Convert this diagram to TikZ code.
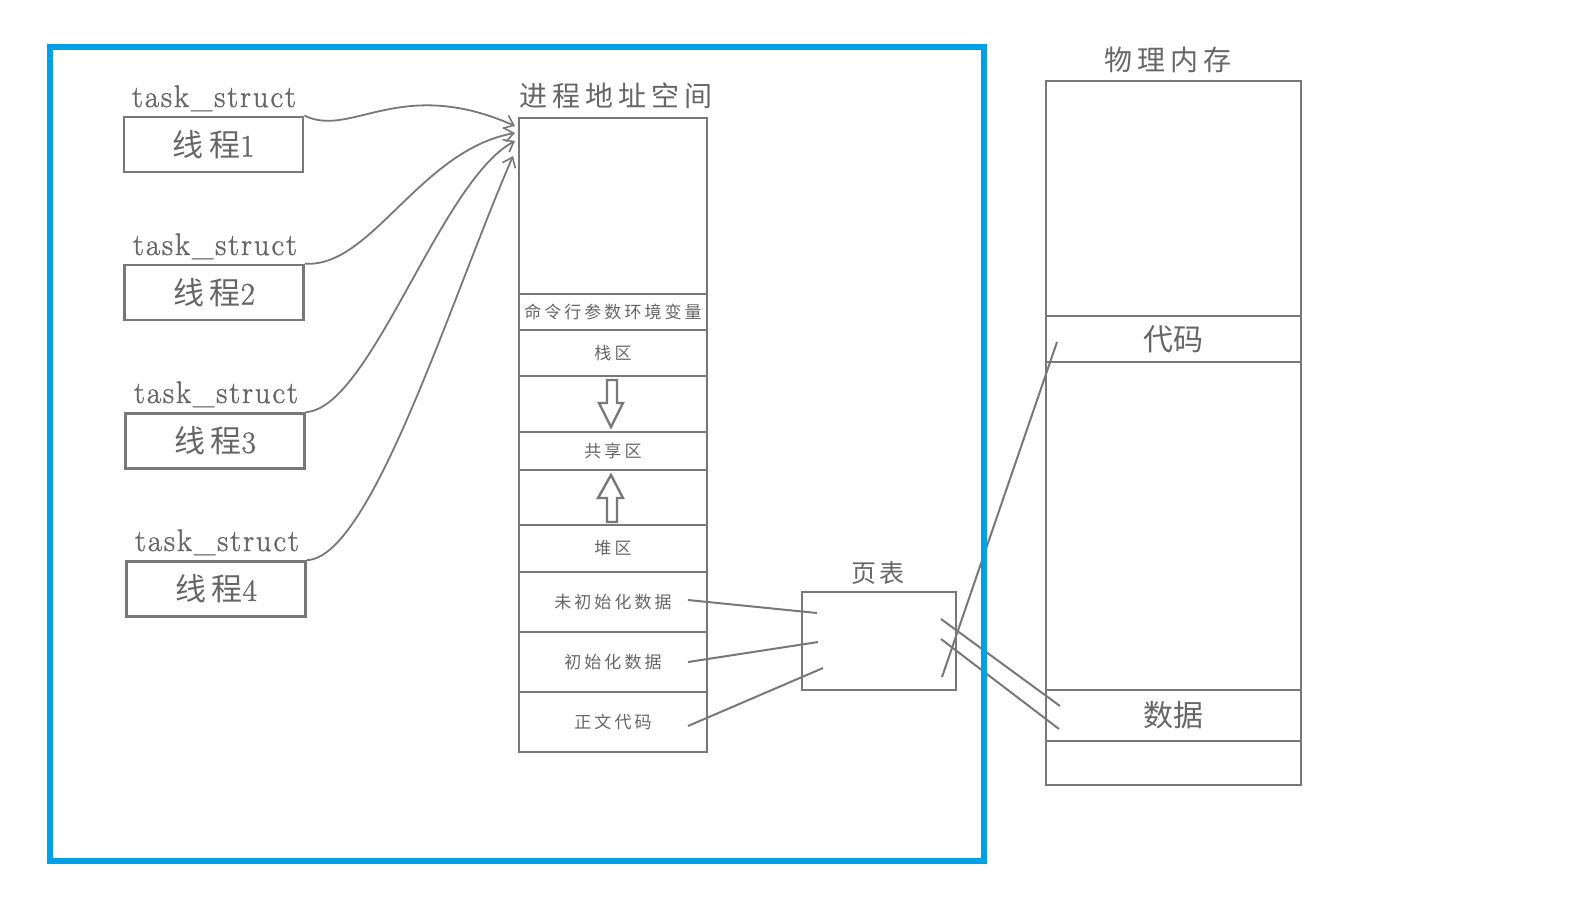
\documentclass[tikz,border=0pt]{standalone}
\usepackage{fontspec}
\newfontfamily\cjk{Noto Sans CJK SC}
\newfontfamily\cjkw[LetterSpace=18]{Noto Sans CJK SC}
\newfontfamily\cjkm[LetterSpace=10]{Noto Sans CJK SC}
\newfontfamily\latn[FakeBold=1.2,LetterSpace=6]{Latin Modern Roman}
\newfontfamily\digit[FakeBold=1.2]{Latin Modern Roman}
\usetikzlibrary{arrows.meta}
\definecolor{ln}{HTML}{787878}
\definecolor{tx}{HTML}{666666}
\definecolor{fr}{HTML}{00A0E9}
\tikzset{
  box/.style={draw=ln, line width=2.8pt, inner sep=0pt, text=tx},
  cell/.style={box, minimum width=188pt},
  pmcell/.style={box, minimum width=255pt},
  thread/.style={box, minimum width=179pt, minimum height=55pt, font=\cjkw\fontsize{31}{31}\selectfont},
  small/.style={font=\cjkw\fontsize{17}{17}\selectfont},
  lbl/.style={text=tx, inner sep=0pt, font=\latn\fontsize{31}{31}\selectfont},
  title/.style={text=tx, inner sep=0pt, font=\cjkw\fontsize{28}{28}\selectfont},
  conn/.style={draw=ln, line width=1.8pt, -{Straight Barb[length=9pt,width=14pt,line width=1.6pt]}},
  link/.style={draw=ln, line width=2pt},
  blk/.style={draw=ln, line width=2.4pt, line join=miter, fill=white},
}
\begin{document}
\begin{tikzpicture}[x=1pt,y=-1pt]
\useasboundingbox (0,0) rectangle (1571,906);

% threads
\node[thread] (t1) at (213.5,144.5) {线程\digit 1};
\node[thread] (t2) at (214,292.5) {线程\digit 2};
\node[thread] (t3) at (215,441) {线程\digit 3};
\node[thread] (t4) at (216,589) {线程\digit 4};
\node[lbl, anchor=base] (ts1) at (214,107) {task\_struct};
\node[lbl, anchor=base] (ts2) at (215,255) {task\_struct};
\node[lbl, anchor=base] (ts3) at (216,403) {task\_struct};
\node[lbl, anchor=base] (ts4) at (217,551) {task\_struct};

% process address space
\node[title, anchor=base] (astitle) at (616,106) {进程地址空间};
\node[cell, minimum height=176pt] (top) at (613,206) {};
\node[cell, minimum height=36pt, small] (cmd) at (613,312) {命令行参数环境变量};
\node[cell, minimum height=46pt, small] (stack) at (613,353) {栈区};
\node[cell, minimum height=56pt] (gap1) at (613,404) {};
\node[cell, minimum height=38pt, small] (shared) at (613,451) {共享区};
\node[cell, minimum height=55pt] (gap2) at (613,497.5) {};
\node[cell, minimum height=47pt, small] (heap) at (613,548.5) {堆区};
\node[cell, minimum height=60pt, small] (bss) at (613,602) {未初始化数据};
\node[cell, minimum height=60pt, small] (data) at (613,662) {初始化数据};
\node[cell, minimum height=60pt, small] (text) at (613,722) {正文代码};

% block arrows
\draw[blk] (607,380) -- (617,380) -- (617,403) -- (623,403) -- (611,427) -- (599,403) -- (607,403) -- cycle;
\draw[blk] (607,522) -- (617,522) -- (617,498) -- (623,498) -- (611,475) -- (598,498) -- (607,498) -- cycle;

% arrows threads -> address space
\coordinate (e1) at (515,126);
\coordinate (e2) at (515,133);
\coordinate (e3) at (515,141);
\coordinate (e4) at (513,156);
\draw[conn] (t1.north east) .. controls +(47,23) and +(-115,-51) .. (e1);
\draw[conn] (t2.north east) .. controls +(66,5) and +(-95,17) .. (e2);
\draw[conn] (t3.north east) .. controls +(65,-4) and +(-75,40) .. (e3);
\draw[conn] (t4.north east) .. controls +(64,-2) and +(-63,145) .. (e4);

% page table
\node[box, minimum width=154pt, minimum height=98pt] (pt) at (879,641) {};
\node[text=tx, inner sep=0pt, anchor=base, font=\cjkm\fontsize{25}{25}\selectfont] (pttitle) at (878,582) {页表};

% physical memory
\node[title, anchor=base] (pmtitle) at (1168,70) {物理内存};
\node[pmcell, minimum height=235pt] (pm1) at (1173.5,198.5) {};
\node[pmcell, minimum height=46pt, font=\cjk\fontsize{30}{30}\selectfont] (code) at (1173.5,339) {代码};
\node[pmcell, minimum height=328pt] (pm2) at (1173.5,526) {};
\node[pmcell, minimum height=51pt, font=\cjk\fontsize{30}{30}\selectfont] (pdata) at (1173.5,715.5) {数据};
\node[pmcell, minimum height=44pt] (pm3) at (1173.5,763) {};

% mapping lines
\coordinate (a1) at (688,600);  \coordinate (b1) at (817,613);
\coordinate (a2) at (688,662);  \coordinate (b2) at (818,642);
\coordinate (a3) at (688,726);  \coordinate (b3) at (823,668);
\draw[link] (a1) -- (b1);
\draw[link] (a2) -- (b2);
\draw[link] (a3) -- (b3);
\coordinate (r1) at (942,677);  \coordinate (s1) at (1057,342);
\coordinate (r2) at (941,619);  \coordinate (s2) at (1060,706);
\coordinate (r3) at (941,639);  \coordinate (s3) at (1059,729);
\draw[link] (r1) -- (s1);
\draw[link] (r2) -- (s2);
\draw[link] (r3) -- (s3);

% blue frame
\draw[fr, line width=6pt] (50,47) rectangle (984,861);
\end{tikzpicture}
\end{document}
